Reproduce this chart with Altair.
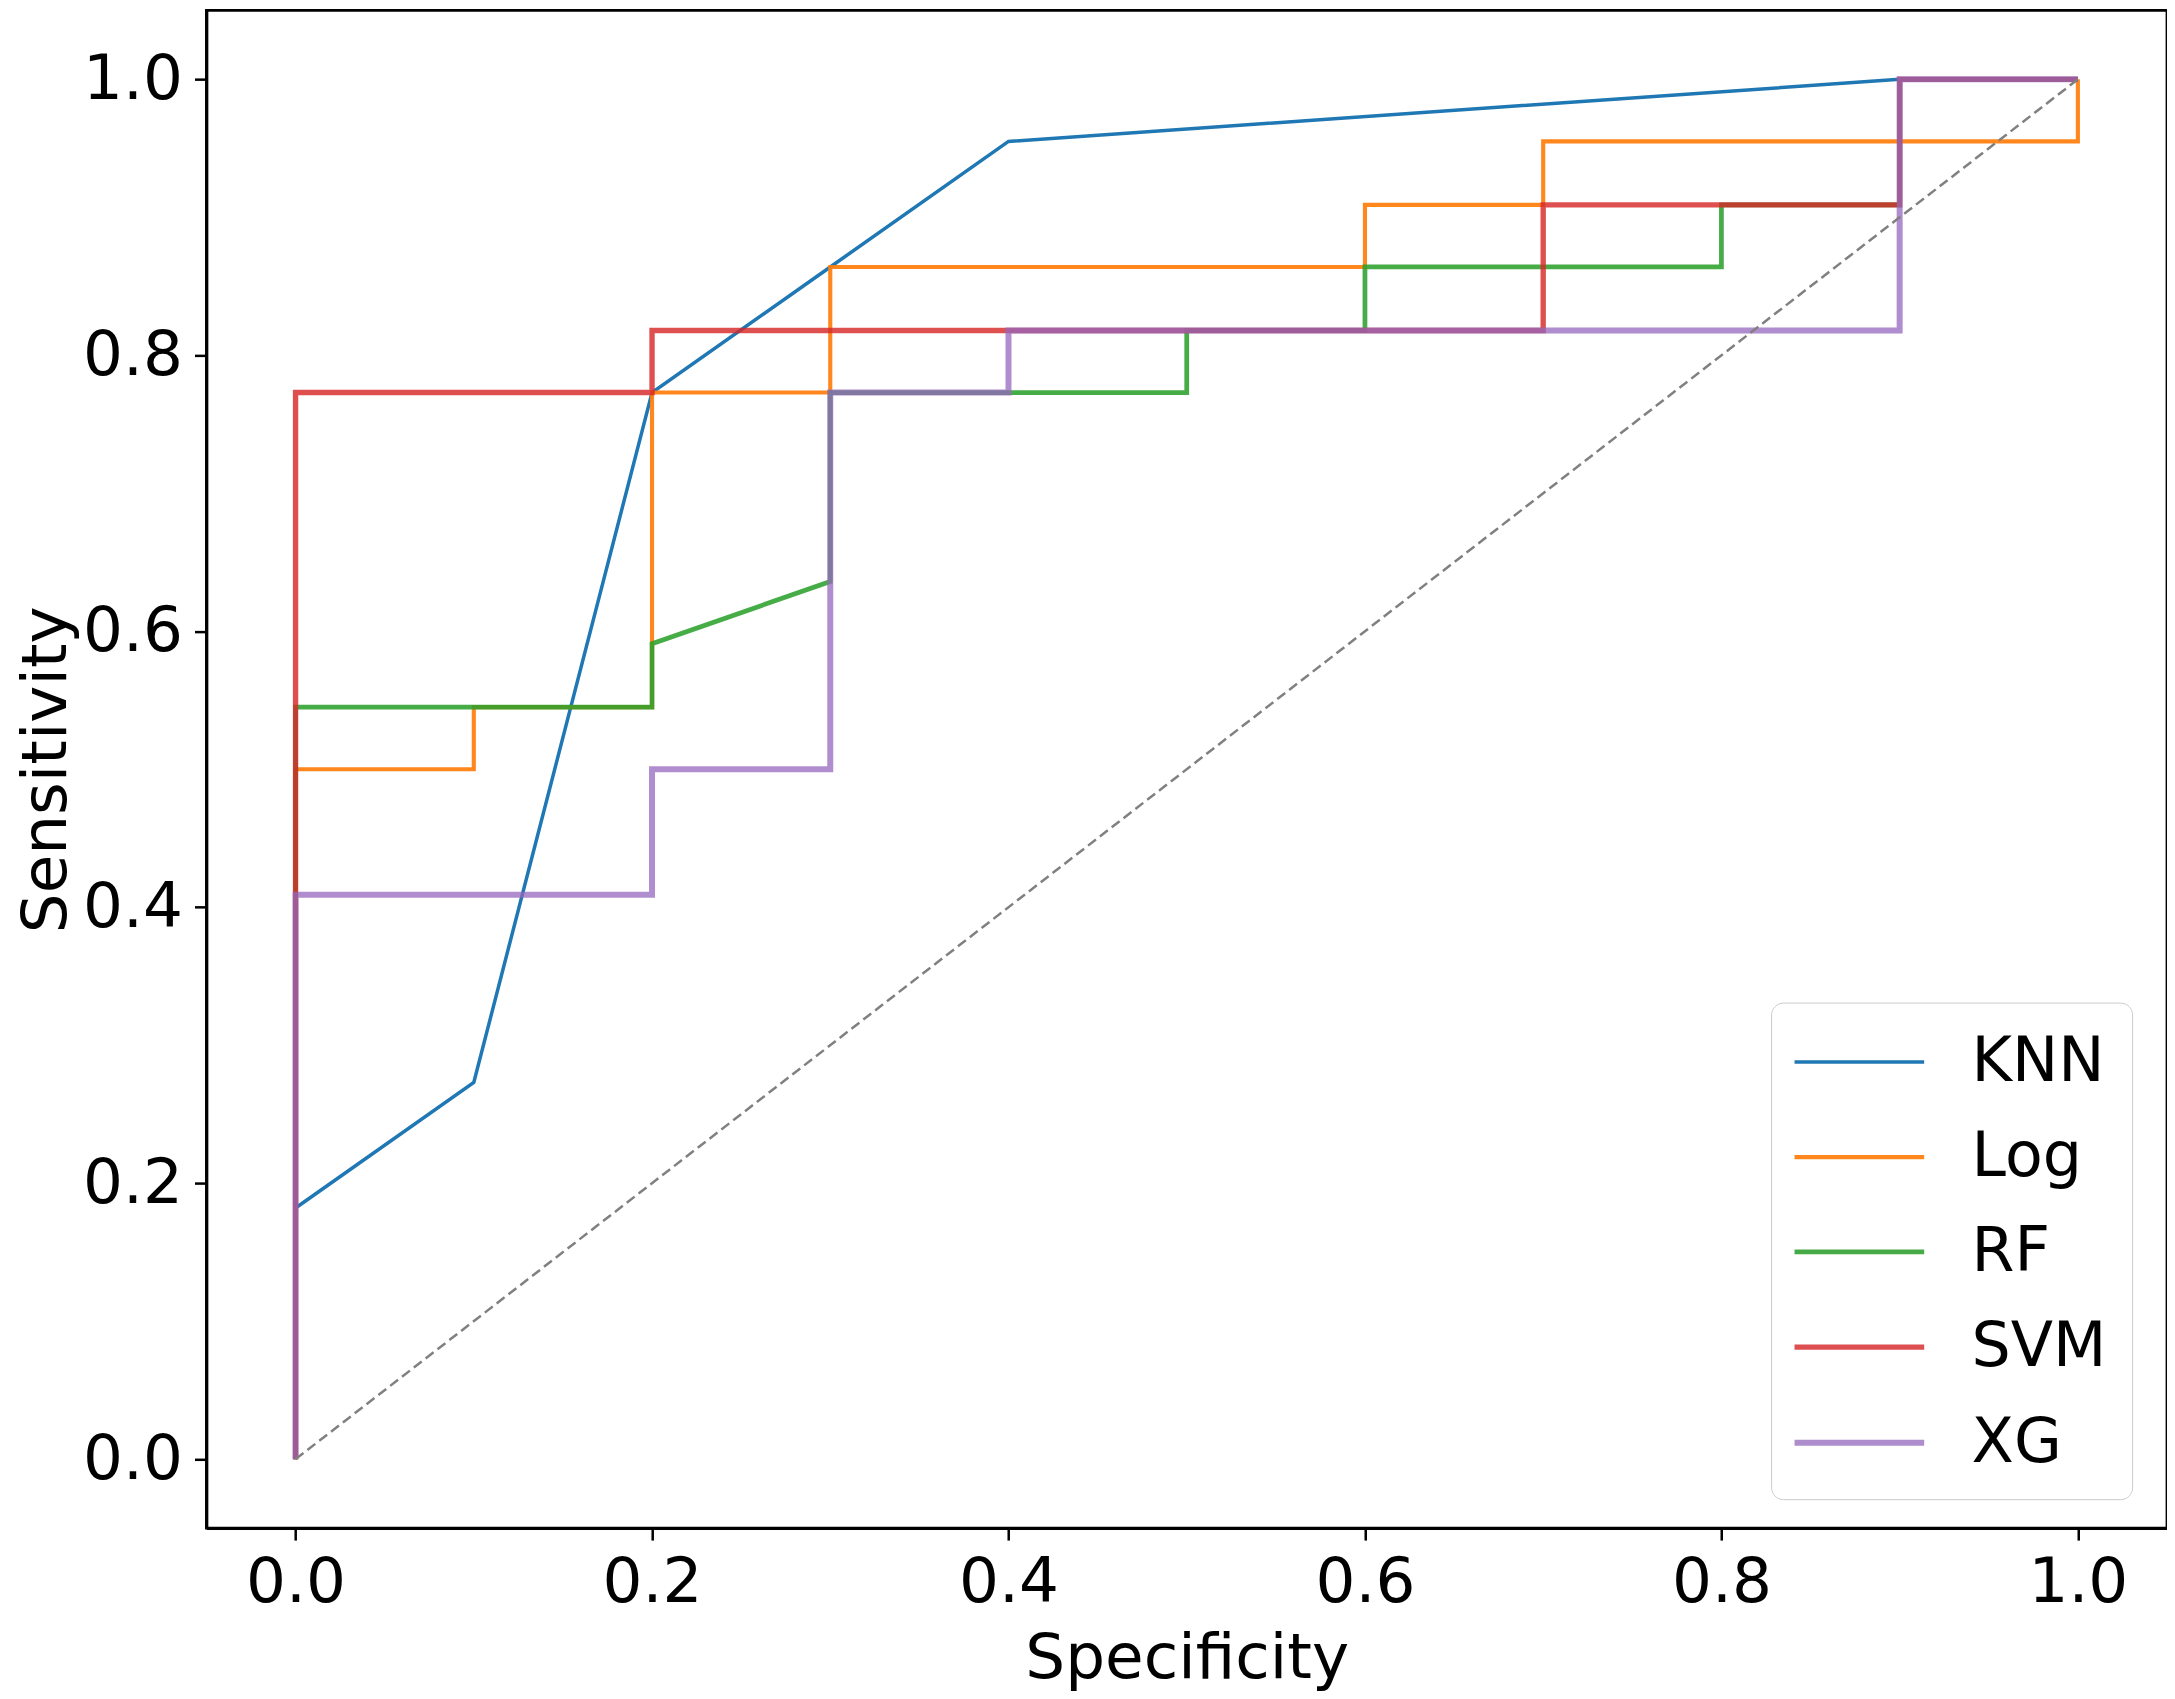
import altair as alt
import pandas as pd

models = ["KNN", "Log", "RF", "SVM", "XG"]
colors = ["#1f77b4", "#ff7f0e", "#2ca02c", "#d62728", "#9467bd"]
widths = [3.5, 6, 3.5, 6, 6]
opacities = [1.0, 0.75, 1.0, 0.75, 0.75]

knn_x = [0.0, 0.0, 0.1, 0.2, 0.3, 0.4, 0.9, 1.0]
knn_y = [0.0, 0.182, 0.273, 0.773, 0.864, 0.955, 1.0, 1.0]

log_x = [0.0, 0.0, 0.1, 0.1, 0.2, 0.2, 0.3, 0.3, 0.6, 0.6, 0.7, 0.7, 1.0, 1.0]
log_y = [0.0, 0.5, 0.5, 0.545, 0.545, 0.773, 0.773, 0.864, 0.864, 0.909, 0.909, 0.955, 0.955, 1.0]

rf_x = [0.0, 0.0, 0.2, 0.2, 0.3, 0.3, 0.5, 0.5, 0.6, 0.6, 0.8, 0.8, 0.9, 0.9, 1.0]
rf_y = [0.0, 0.545, 0.545, 0.591, 0.636, 0.773, 0.773, 0.818, 0.818, 0.864, 0.864, 0.909, 0.909, 1.0, 1.0]

svm_x = [0.0, 0.0, 0.2, 0.2, 0.7, 0.7, 0.9, 0.9, 1.0]
svm_y = [0.0, 0.773, 0.773, 0.818, 0.818, 0.909, 0.909, 1.0, 1.0]

xg_x = [0.0, 0.0, 0.2, 0.2, 0.3, 0.3, 0.4, 0.4, 0.9, 0.9, 1.0]
xg_y = [0.0, 0.409, 0.409, 0.5, 0.5, 0.773, 0.773, 0.818, 0.818, 1.0, 1.0]

diag_x = [0.0, 1.0]
diag_y = [0.0, 1.0]

tick_vals = [0.0, 0.2, 0.4, 0.6, 0.8, 1.0]

series = [("KNN", knn_x, knn_y), ("Log", log_x, log_y), ("RF", rf_x, rf_y),
          ("SVM", svm_x, svm_y), ("XG", xg_x, xg_y)]
rows = []
for name, xs, ys in series:
    for i, (a, b) in enumerate(zip(xs, ys)):
        rows.append({"model": name, "fpr": a, "tpr": b, "i": i})
df = pd.DataFrame(rows)
diag = pd.DataFrame({"fpr": diag_x, "tpr": diag_y})

FONT = "DejaVu Sans"
xscale = alt.Scale(domain=[-0.05, 1.05], nice=False, zero=False)
yscale = alt.Scale(domain=[-0.05, 1.05], nice=False, zero=False)

xenc = alt.X("fpr:Q", scale=xscale,
             axis=alt.Axis(title="Specificity", values=tick_vals, format=".1f",
                           labelPadding=12, titlePadding=13))
yenc = alt.Y("tpr:Q", scale=yscale,
             axis=alt.Axis(title="Sensitivity", values=tick_vals, format=".1f",
                           labelPadding=12, titlePadding=4))

lines = alt.Chart(df).mark_line(interpolate="linear", strokeCap="butt").encode(
    x=xenc,
    y=yenc,
    order=alt.Order("i:Q"),
    color=alt.Color(
        "model:N",
        scale=alt.Scale(domain=models, range=colors),
        legend=alt.Legend(
            title=None, orient="none", legendX=1569, legendY=995,
            symbolType="M-2,0L2,0", symbolSize=4225, symbolStrokeWidth=5,
            symbolOffset=28, labelOffset=77, padding=25, rowPadding=29,
            strokeColor="#cccccc", fillColor="white", cornerRadius=12,
            labelFontSize=62, labelFont=FONT, labelColor="black",
            symbolOpacity=0.75,
        ),
    ),
    strokeWidth=alt.StrokeWidth("model:N", scale=alt.Scale(domain=models, range=widths), legend=None),
    opacity=alt.Opacity("model:N", scale=alt.Scale(domain=models, range=opacities), legend=None),
)

diag_line = alt.Chart(diag).mark_line(color="#808080", strokeDash=[10, 5], strokeWidth=2.5).encode(
    x="fpr:Q", y="tpr:Q"
)

chart = alt.layer(lines, diag_line).properties(
    width=1966, height=1522,
    padding={"top": 0, "left": 7, "right": 0, "bottom": 4},
).configure_view(
    stroke="black", strokeWidth=2.8
).configure_axis(
    grid=False,
    domainColor="black", domainWidth=2.8,
    tickColor="black", tickWidth=2.5, tickSize=12,
    labelFont=FONT, labelFontSize=63, labelColor="black",
    titleFont=FONT, titleFontSize=63, titleFontWeight="normal", titleColor="black",
)

chart.save("out.html", embed_options={"renderer": "svg", "actions": False})
